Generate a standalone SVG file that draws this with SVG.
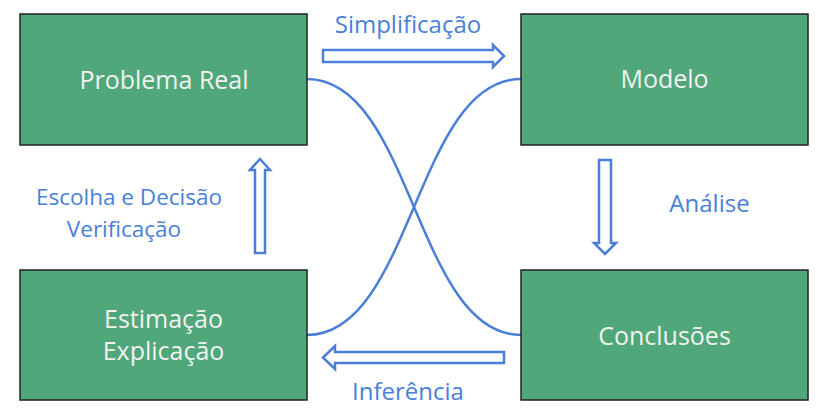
<svg xmlns="http://www.w3.org/2000/svg" width="826" height="412" viewBox="0 0 826 412">
  <style>
    .box { fill: #4fa77a; stroke: #222; stroke-width: 1.5; }
    .nt { font-family: "Open Sans", "Noto Sans", sans-serif; font-size: 25px; fill: #f2f2f2; text-anchor: middle; }
    .lt { font-family: "Open Sans", "Noto Sans", sans-serif; font-size: 24px; fill: #4a7fd8; text-anchor: middle; }
    .ls { font-size: 22.5px; }
    .arr { fill: #ffffff; stroke: #4a7fd8; stroke-width: 2.5; stroke-linejoin: miter; }
    .cur { fill: none; stroke: #4a7fd8; stroke-width: 2.5; }
  </style>
  <rect width="826" height="412" fill="#ffffff"/>
  <g id="connectors">
    <path class="cur" d="M307,79 C412,79 416,335 521,335"/>
    <path class="cur" d="M521,79 C416,79 412,335 307,335"/>
    <polygon class="arr" points="323,50 493,50 493,45 504,56 493,67 493,62 323,62"/>
    <polygon class="arr" points="599,160 611,160 611,243 616,243 605,254 594,243 599,243"/>
    <polygon class="arr" points="255,253 265,253 265,170 270,170 260,159 250,170 255,170"/>
    <polygon class="arr" points="504,352 335,352 335,346 323,357.5 335,369 335,363 504,363"/>
    <text class="lt" x="408" y="33">Simplificação</text>
    <text class="lt" x="709.5" y="212">Análise</text>
    <text class="lt" x="408" y="400">Inferência</text>
    <text class="lt ls" x="129" y="205">Escolha e Decisão</text>
    <text class="lt ls" x="124" y="237">Verificação</text>
  </g>
  <g id="problema-real">
    <rect class="box" x="20" y="14" width="287" height="131"/>
    <text class="nt" x="164" y="89">Problema Real</text>
  </g>
  <g id="modelo">
    <rect class="box" x="521" y="14" width="287" height="131"/>
    <text class="nt" x="664.5" y="88">Modelo</text>
  </g>
  <g id="conclusoes">
    <rect class="box" x="521" y="270" width="287" height="130"/>
    <text class="nt" x="664.5" y="345">Conclusões</text>
  </g>
  <g id="estimacao">
    <rect class="box" x="20" y="270" width="287" height="130"/>
    <text class="nt"><tspan x="163.5" y="328">Estimação</tspan><tspan x="163.5" y="360">Explicação</tspan></text>
  </g>
</svg>
